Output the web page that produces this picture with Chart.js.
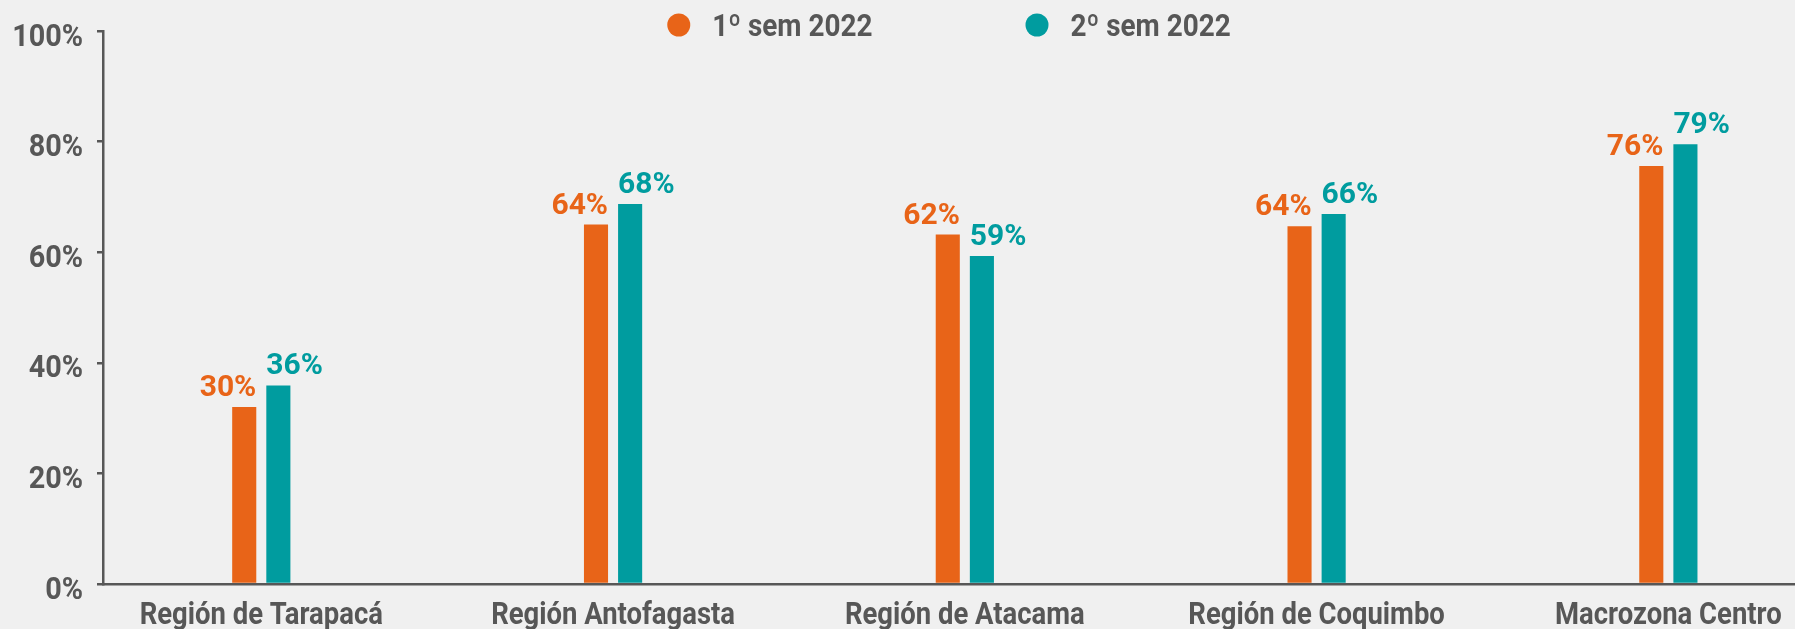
<!DOCTYPE html>
<html lang="es">
<head>
<meta charset="utf-8">
<title>Macrozona Centro - 1º y 2º sem 2022</title>
<script src="https://cdn.jsdelivr.net/npm/chart.js@4.4.0/dist/chart.umd.min.js"></script>
<style>
    html, body { margin: 0; padding: 0; background: #f0f0f0; }
    .chart-container { position: relative; width: 1795px; height: 629px; }
</style>
</head>
<body>
<div class="chart-container"><canvas id="barChart"></canvas></div>
<script>
// Datos
const categories = ['Región de Tarapacá', 'Región Antofagasta', 'Región de Atacama', 'Región de Coquimbo', 'Macrozona Centro'];
const seriesNames = ['1º sem 2022', '2º sem 2022'];
const sem1Values = [32, 65, 63.2, 64.7, 75.6];
const sem2Values = [35.9, 68.7, 59.3, 66.9, 79.5];
const sem1Labels = ['30%', '64%', '62%', '64%', '76%'];
const sem2Labels = ['36%', '68%', '59%', '66%', '79%'];
const yTicks = [0, 20, 40, 60, 80, 100];

const ORANGE = '#e86418';
const TEAL = '#009c9f';
const GREY = '#575757';
const X_MIN = -0.45;
const X_MAX = 4.36;
const SQUEEZE = 0.9; // la fuente original es condensada

// texto estrechado horizontalmente
function drawNarrow(c, text, x, y, align) {
    c.save();
    c.translate(x, y);
    c.scale(SQUEEZE, 1);
    c.textAlign = align;
    c.fillText(text, 0, 0);
    c.restore();
}

class SemesterChart {
    constructor() {
        this.chart = null;
        this.renderChart();
    }

    renderChart() {
        const ctx = document.getElementById('barChart').getContext('2d');

        // leyenda arriba, dentro del área
        const legendPlugin = {
            id: 'topLegend',
            afterDraw(chart) {
                const c = chart.ctx;
                const area = chart.chartArea;
                const colors = [ORANGE, TEAL];
                c.save();
                c.font = 'bold 31px Roboto, sans-serif';
                c.textBaseline = 'alphabetic';
                const widths = seriesNames.map(n => c.measureText(n).width * SQUEEZE);
                const total = widths[0] + widths[1] + 2 * 45 + 153;
                let x = (area.left + area.right) / 2 - total / 2;
                const y = 25;
                seriesNames.forEach((name, i) => {
                    c.fillStyle = colors[i];
                    c.beginPath();
                    c.arc(x + 11.5, y, 11.5, 0, Math.PI * 2);
                    c.fill();
                    c.fillStyle = GREY;
                    drawNarrow(c, name, x + 45, y + 11, 'left');
                    x += 45 + widths[i] + 153;
                });
                c.restore();
            }
        };

        // etiquetas de los ejes
        const axisLabels = {
            id: 'axisLabels',
            afterDraw(chart) {
                const c = chart.ctx;
                const xs = chart.scales.x;
                const ys = chart.scales.y;
                c.save();
                c.fillStyle = GREY;
                c.textBaseline = 'alphabetic';
                c.font = 'bold 32px Roboto, sans-serif';
                ys.ticks.forEach((t, i) => {
                    drawNarrow(c, yTicks[i] + '%', ys.right - 20, ys.getPixelForTick(i) + 14.5, 'right');
                });
                c.font = 'bold 30.5px Roboto, sans-serif';
                xs.ticks.forEach((t, i) => {
                    drawNarrow(c, categories[t.value], xs.getPixelForTick(i), xs.top + 40, 'center');
                });
                c.restore();
            }
        };

        // etiquetas de valor sobre las barras
        const valueLabels = {
            id: 'valueLabels',
            afterDatasetsDraw(chart) {
                const c = chart.ctx;
                const texts = [sem1Labels, sem2Labels];
                c.save();
                c.font = 'bold 30px Roboto, sans-serif';
                c.textBaseline = 'alphabetic';
                chart.data.datasets.forEach((ds, di) => {
                    chart.getDatasetMeta(di).data.forEach((bar, i) => {
                        c.fillStyle = ds.backgroundColor;
                        if (di === 0) {
                            c.textAlign = 'right';
                            c.fillText(texts[di][i], bar.x + bar.width / 2, bar.y - 11);
                        } else {
                            c.textAlign = 'left';
                            c.fillText(texts[di][i], bar.x - bar.width / 2, bar.y - 11);
                        }
                    });
                });
                c.restore();
            }
        };

        this.chart = new Chart(ctx, {
            type: 'bar',
            data: {
                datasets: [{
                    label: seriesNames[0],
                    data: sem1Values.map((v, i) => ({ x: i, y: v })),
                    backgroundColor: ORANGE
                }, {
                    label: seriesNames[1],
                    data: sem2Values.map((v, i) => ({ x: i, y: v })),
                    backgroundColor: TEAL
                }]
            },
            options: {
                responsive: true,
                maintainAspectRatio: false,
                animation: false,
                categoryPercentage: 0.194,
                barPercentage: 0.706,
                layout: { padding: { top: 31, left: 0, right: 0, bottom: 0 } },
                plugins: {
                    legend: { display: false },
                    tooltip: { enabled: false }
                },
                scales: {
                    x: {
                        type: 'linear',
                        min: X_MIN,
                        max: X_MAX,
                        offset: false,
                        bounds: 'data',
                        afterBuildTicks: (scale) => {
                            scale.ticks = categories.map((_, i) => ({ value: i }));
                        },
                        afterFit: (scale) => {
                            scale.height = 45;
                            scale.paddingLeft = 0;
                            scale.paddingRight = 0;
                        },
                        grid: { display: false, drawTicks: false, offset: false },
                        border: { display: true, color: GREY, width: 2.5 },
                        ticks: { display: false, autoSkip: false }
                    },
                    y: {
                        min: 0,
                        max: 100,
                        afterBuildTicks: (scale) => {
                            scale.ticks = yTicks.map(v => ({ value: v }));
                        },
                        afterFit: (scale) => { scale.width = 103; },
                        grid: {
                            drawOnChartArea: false,
                            drawTicks: true,
                            tickLength: 6,
                            color: GREY,
                            lineWidth: 2.5
                        },
                        border: { display: true, color: GREY, width: 2.5 },
                        ticks: { display: false }
                    }
                }
            },
            plugins: [legendPlugin, axisLabels, valueLabels]
        });
    }
}

new SemesterChart();
</script>
</body>
</html>
